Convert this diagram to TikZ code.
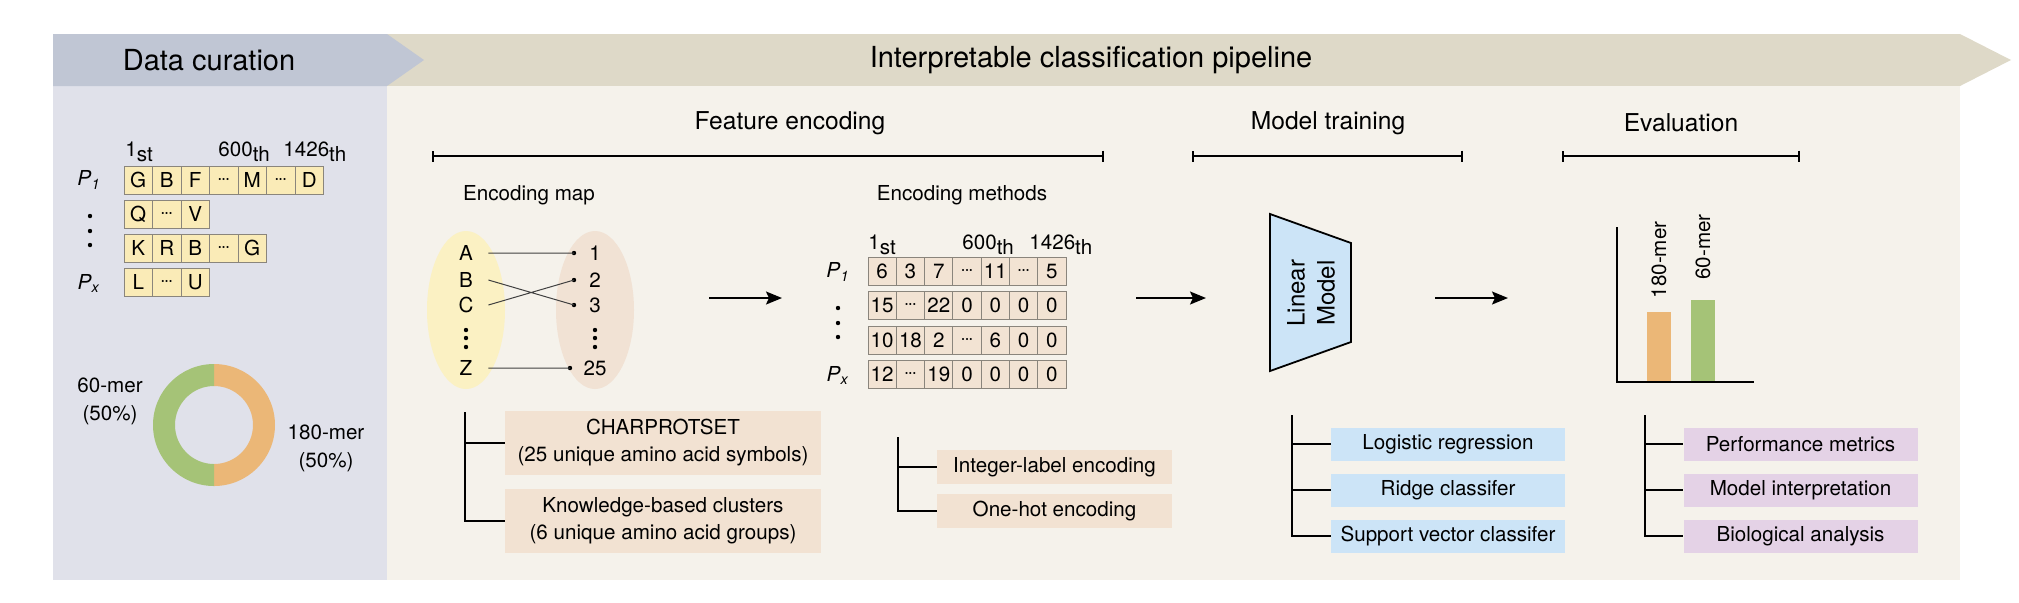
\documentclass[tikz,border=0pt]{standalone}
\usepackage{fontspec}
\setmainfont{TeX Gyre Heros}
\usetikzlibrary{arrows.meta}

\definecolor{bannergrey}{HTML}{C0C6D4}
\definecolor{panelgrey}{HTML}{E0E1EA}
\definecolor{bannerbeige}{HTML}{DED9C8}
\definecolor{panelbeige}{HTML}{F5F2EB}
\definecolor{cellyellow}{HTML}{FAEBB7}
\definecolor{cellbeige}{HTML}{F2E3D3}
\definecolor{cellline}{HTML}{8A857C}
\definecolor{mapyellow}{HTML}{FBF1C3}
\definecolor{mapbeige}{HTML}{F1E2D4}
\definecolor{boxbeige}{HTML}{F2E2D2}
\definecolor{boxblue}{HTML}{CCE4F7}
\definecolor{boxpurple}{HTML}{E4D2E6}
\definecolor{ringorange}{HTML}{EBB777}
\definecolor{ringgreen}{HTML}{A5C377}

\newcommand{\cdts}{${\cdot}\mkern-1.5mu{\cdot}\mkern-1.5mu{\cdot}$}
\newcommand{\ord}[2]{#1\raisebox{-0.45ex}{#2}}

\begin{document}
\begin{tikzpicture}
[x=0.5pt,y=-0.5pt,%
  every node/.style={inner sep=0pt,font=\fontsize{10.3}{14}\selectfont},%
  bannertxt/.style={font=\fontsize{14.5}{17}\selectfont},%
  headtxt/.style={font=\fontsize{12.3}{15}\selectfont},%
  aacell/.style={draw=cellline,line width=0.5pt,fill=cellyellow,minimum width=14.25pt,minimum height=14pt},%
  numcell/.style={aacell,fill=cellbeige,minimum width=14.15pt},%
  fbox/.style={fill=boxbeige,align=center,font=\fontsize{10.3}{13.5}\selectfont},%
  mbox/.style={fill=boxblue,minimum width=117pt,minimum height=16.5pt},%
  ebox/.style={fill=boxpurple,minimum width=117pt,minimum height=16.5pt},%
  spanline/.style={line width=0.9pt,{Bar[width=5.5pt]}-{Bar[width=5.5pt]}},%
  flowarrow/.style={line width=0.9pt,-{Stealth[length=8pt,width=6.5pt,inset=1.5pt]}},%
  branchline/.style={line width=0.9pt},%
  mapline/.style={line width=0.5pt,black!75}]
\useasboundingbox (0,0) rectangle (2019,602);

% banners and panels
\fill[bannerbeige] (387,34) -- (1960,34) -- (2011,60) -- (1960,86) -- (387,86) -- cycle;
\fill[panelgrey] (53,86) rectangle (387,580);
\fill[panelbeige] (387,86) rectangle (1960,580);
\fill[bannergrey] (53,34) -- (387,34) -- (424,60) -- (387,86) -- (53,86) -- cycle;
\node[bannertxt] (dc) at (209,60) {Data curation};
\node[bannertxt] (icp) at (1091,60) {Interpretable classification pipeline};

\node[headtxt] (feat) at (790,123) {Feature encoding};
\node[headtxt] (train) at (1328,123) {Model training};
\node[headtxt] (evalh) at (1681,123) {Evaluation};
\draw[spanline] (432,156) -- (1104,156);
\draw[spanline] (1192,156) -- (1463,156);
\draw[spanline] (1562,156) -- (1800,156);

% data curation
\node[anchor=west] (o1) at (125,152) {\ord{1}{st}};
\node[anchor=west] (o600) at (218,152) {\ord{600}{th}};
\node[anchor=west] (o1426) at (283,152) {\ord{1426}{th}};
\node (pa) at (89,180) {\textit{P}\textsubscript{\textit{1}}};
\node (pb) at (89,283) {\textit{P}\textsubscript{\textit{x}}};
\foreach \y in {216,231,245}
  \fill (90,\y) circle (1.1pt);
\foreach \t [count=\i] in {G,B,F,\cdts,M,\cdts,D}
  \node[aacell] (sa\i) at ({138.25+28.5*(\i-1)},180) {\t};
\foreach \t [count=\i] in {Q,\cdts,V}
  \node[aacell] (sb\i) at ({138.25+28.5*(\i-1)},214) {\t};
\foreach \t [count=\i] in {K,R,B,\cdts,G}
  \node[aacell] (sc\i) at ({138.25+28.5*(\i-1)},248) {\t};
\foreach \t [count=\i] in {L,\cdts,U}
  \node[aacell] (sd\i) at ({138.25+28.5*(\i-1)},282) {\t};

\fill[ringorange] (214,364) arc[start angle=-90,end angle=90,radius=61]
  -- (214,464) arc[start angle=90,end angle=-90,radius=39] -- cycle;
\fill[ringgreen] (214,486) arc[start angle=90,end angle=270,radius=61]
  -- (214,386) arc[start angle=270,end angle=90,radius=39] -- cycle;
\node[align=center] (l60) at (110,401) {60-mer\\(50\%)};
\node[align=center] (l180) at (326,448) {180-mer\\(50\%)};

% encoding map
\node (emap) at (529,195) {Encoding map};
\fill[mapyellow] (466,310) ellipse [x radius=39,y radius=79];
\fill[mapbeige] (595,310) ellipse [x radius=39,y radius=79];
\foreach \t/\y in {A/253,B/280,C/305,Z/368}
  \node[minimum width=22pt] (l\t) at (466,\y) {\t};
\foreach \t/\y in {1/253,2/280,3/305} {
  \node (n\t) at (595,\y) {\t};
  \coordinate (d\t) at (574,\y);
}
\node (n25) at (595,368) {25};
\coordinate (d25) at (570,368);
\foreach \d in {d1,d2,d3,d25}
  \fill (\d) circle (1.1pt);
\foreach \y in {330,338,347} {
  \fill (466,\y) circle (1.1pt);
  \fill (595,\y) circle (1.1pt);
}
\draw[mapline] (lA.east) -- (d1) (lB.east) -- (d3) (lC.east) -- (d2) (lZ.east) -- (d25);

\coordinate (m1) at (709,298);
\coordinate (m2) at (782,298);
\draw[flowarrow] (m1) -- (m2);

% encoding methods
\node (emeth) at (962,195) {Encoding methods};
\node[anchor=west] (q1) at (868,245) {\ord{1}{st}};
\node[anchor=west] (q600) at (962,245) {\ord{600}{th}};
\node[anchor=west] (q1426) at (1029,245) {\ord{1426}{th}};
\node (qa) at (838,272) {\textit{P}\textsubscript{\textit{1}}};
\node (qb) at (838,375) {\textit{P}\textsubscript{\textit{x}}};
\foreach \y in {308,323,337}
  \fill (838,\y) circle (1.1pt);
\foreach \t [count=\i] in {6,3,7,\cdts,11,\cdts,5}
  \node[numcell] (ea\i) at ({882.15+28.3*(\i-1)},271) {\t};
\foreach \t [count=\i] in {15,\cdts,22,0,0,0,0}
  \node[numcell] (eb\i) at ({882.15+28.3*(\i-1)},305.5) {\t};
\foreach \t [count=\i] in {10,18,2,\cdts,6,0,0}
  \node[numcell] (ec\i) at ({882.15+28.3*(\i-1)},340) {\t};
\foreach \t [count=\i] in {12,\cdts,19,0,0,0,0}
  \node[numcell] (ed\i) at ({882.15+28.3*(\i-1)},374) {\t};

\coordinate (m3) at (1136,298);
\coordinate (m4) at (1206,298);
\draw[flowarrow] (m3) -- (m4);

% model
\filldraw[fill=boxblue,line width=0.9pt] (1270,214) -- (1351,243) -- (1351,342) -- (1270,371) -- cycle;
\node[rotate=90,align=center,font=\fontsize{12}{15}\selectfont] (lm) at (1311,293) {Linear\\Model};

\coordinate (m5) at (1435,298);
\coordinate (m6) at (1508,298);
\draw[flowarrow] (m5) -- (m6);

% evaluation chart
\draw[line width=0.9pt] (1617,227) -- (1617,382) -- (1754,382);
\fill[ringorange] (1647,312) rectangle (1671,381);
\fill[ringgreen] (1691,300) rectangle (1715,381);
\node[rotate=90] (b180) at (1659,260) {180-mer};
\node[rotate=90] (b60) at (1703,247) {60-mer};

% option lists
\node[fbox,minimum width=158pt,minimum height=32pt] (charp) at (663,443) {CHARPROTSET\\(25 unique amino acid symbols)};
\node[fbox,minimum width=158pt,minimum height=32pt] (knowl) at (663,521) {Knowledge-based clusters\\(6 unique amino acid groups)};
\coordinate (ft1) at (465,412);
\draw[branchline] (ft1) |- (charp.west) (ft1) |- (knowl.west);

\node[fbox,minimum width=117.5pt,minimum height=17pt] (intl) at (1054.5,467) {Integer-label encoding};
\node[fbox,minimum width=117.5pt,minimum height=17pt] (onehot) at (1054.5,511) {One-hot encoding};
\coordinate (ft2) at (898,437);
\draw[branchline] (ft2) |- (intl.west) (ft2) |- (onehot.west);

\node[mbox] (lr) at (1448,444) {Logistic regression};
\node[mbox] (rc) at (1448,490) {Ridge classifer};
\node[mbox] (svc) at (1448,536) {Support vector classifer};
\coordinate (mt) at (1292,415);
\draw[branchline] (mt) |- (lr.west) (mt) |- (rc.west) (mt) |- (svc.west);

\node[ebox] (pm) at (1800.5,444) {Performance metrics};
\node[ebox] (mi) at (1800.5,490) {Model interpretation};
\node[ebox] (ba) at (1800.5,536) {Biological analysis};
\coordinate (et) at (1645,415);
\draw[branchline] (et) |- (pm.west) (et) |- (mi.west) (et) |- (ba.west);
\end{tikzpicture}
\end{document}
